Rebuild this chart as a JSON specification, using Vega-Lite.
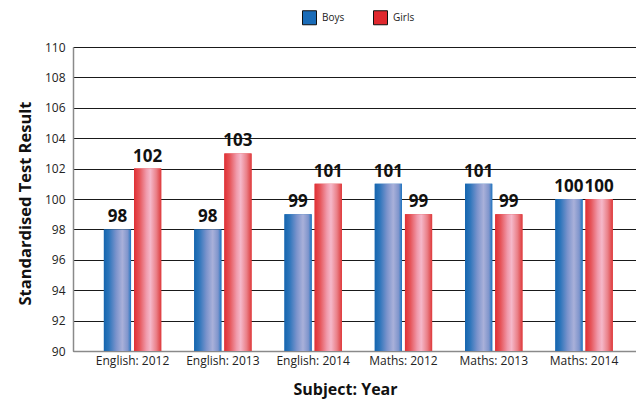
{
  "$schema": "https://vega.github.io/schema/vega-lite/v6.json",
  "autosize": {"type": "none"},
  "padding": {"left": 73, "top": 47, "right": 0, "bottom": 48},
  "width": 563,
  "height": 304,
  "background": "white",
  "config": {
    "font": "Open Sans",
    "view": {"stroke": null}
  },
  "data": {
    "values": [
      {"subject": "English: 2012", "gender": "Boys", "score": 98},
      {"subject": "English: 2012", "gender": "Girls", "score": 102},
      {"subject": "English: 2013", "gender": "Boys", "score": 98},
      {"subject": "English: 2013", "gender": "Girls", "score": 103},
      {"subject": "English: 2014", "gender": "Boys", "score": 99},
      {"subject": "English: 2014", "gender": "Girls", "score": 101},
      {"subject": "Maths: 2012", "gender": "Boys", "score": 101},
      {"subject": "Maths: 2012", "gender": "Girls", "score": 99},
      {"subject": "Maths: 2013", "gender": "Boys", "score": 101},
      {"subject": "Maths: 2013", "gender": "Girls", "score": 99},
      {"subject": "Maths: 2014", "gender": "Boys", "score": 100},
      {"subject": "Maths: 2014", "gender": "Girls", "score": 100}
    ]
  },
  "encoding": {
    "x": {
      "field": "subject",
      "type": "nominal",
      "sort": null,
      "scale": {"paddingInner": 0.365, "paddingOuter": 0.3, "align": 0.57},
      "axis": {
        "title": "Subject: Year",
        "titleFont": "Open Sans",
        "titleFontSize": 16,
        "titleFontWeight": "bold",
        "titleColor": "#111",
        "titleX": 272,
        "titleY": 43,
        "titleBaseline": "alphabetic",
        "labelAngle": 0,
        "labelFontSize": 12,
        "labelColor": "#222",
        "labelPadding": 4,
        "ticks": false,
        "domainColor": "#8a8a8a",
        "domainWidth": 1.5,
        "grid": false
      }
    },
    "xOffset": {
      "field": "gender",
      "type": "nominal",
      "scale": {"paddingInner": 0.1}
    },
    "y": {
      "field": "score",
      "type": "quantitative",
      "scale": {"domain": [90, 110], "zero": false, "nice": false},
      "axis": {
        "title": "Standardised Test Result",
        "titleFont": "Open Sans",
        "titleFontSize": 16.5,
        "titleFontWeight": "bold",
        "titleColor": "#111",
        "titlePadding": 11,
        "titleY": 156,
        "values": [90, 92, 94, 96, 98, 100, 102, 104, 106, 108, 110],
        "labelFontSize": 12,
        "labelColor": "#222",
        "labelPadding": 8,
        "ticks": false,
        "domainColor": "#8a8a8a",
        "domainWidth": 1.5,
        "grid": true,
        "gridColor": "#1a1a1a",
        "gridWidth": 1
      }
    }
  },
  "layer": [
    {
      "mark": {"type": "bar", "clip": true},
      "encoding": {
        "y2": {"datum": 90},
        "color": {
          "field": "gender",
          "type": "nominal",
          "scale": {"domain": ["Boys", "Girls"], "range": ["#1a6cb8", "#e0282e"]},
          "legend": {
            "title": null,
            "orient": "none",
            "legendX": 229,
            "legendY": -37,
            "direction": "horizontal",
            "symbolType": "square",
            "symbolSize": 196,
            "symbolStrokeColor": "#111",
            "symbolStrokeWidth": 1,
            "symbolOpacity": 1,
            "labelFontSize": 10,
            "labelColor": "#222",
            "labelOffset": 5,
            "columnPadding": 26
          }
        }
      }
    },
    {
      "transform": [{"filter": "datum.gender === 'Boys'"}],
      "mark": {
        "type": "bar",
        "color": {
          "gradient": "linear",
          "x1": 0, "x2": 1, "y1": 0, "y2": 0,
          "stops": [
            {"offset": 0, "color": "#1565ae"},
            {"offset": 0.18, "color": "#2c75bb"},
            {"offset": 0.45, "color": "#7b93cc"},
            {"offset": 0.68, "color": "#a9b0d9"},
            {"offset": 0.88, "color": "#7f95cc"},
            {"offset": 1, "color": "#1f74c0"}
          ]
        }
      },
      "encoding": {"y2": {"datum": 90}}
    },
    {
      "transform": [{"filter": "datum.gender === 'Girls'"}],
      "mark": {
        "type": "bar",
        "color": {
          "gradient": "linear",
          "x1": 0, "x2": 1, "y1": 0, "y2": 0,
          "stops": [
            {"offset": 0, "color": "#df3034"},
            {"offset": 0.2, "color": "#e6555a"},
            {"offset": 0.45, "color": "#f09aab"},
            {"offset": 0.6, "color": "#f5b8ca"},
            {"offset": 0.82, "color": "#ea8088"},
            {"offset": 1, "color": "#de3a3c"}
          ]
        }
      },
      "encoding": {"y2": {"datum": 90}}
    },
    {
      "mark": {
        "type": "text",
        "baseline": "bottom",
        "dy": -3,
        "font": "Open Sans",
        "fontSize": 17,
        "fontWeight": "bold",
        "color": "#111"
      },
      "encoding": {
        "text": {"field": "score", "type": "quantitative"}
      }
    }
  ]
}
